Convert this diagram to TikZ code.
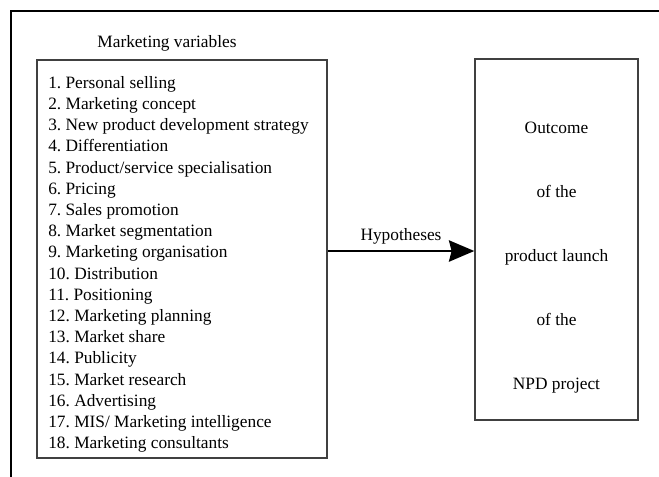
\documentclass[tikz,border=0pt]{standalone}
\usepackage{fontspec}
\setmainfont{Liberation Serif}
\usetikzlibrary{arrows.meta,positioning}
\frenchspacing

\begin{document}
\begin{tikzpicture}[x=0.75pt, y=-0.75pt,
    every node/.style={font=\fontsize{13}{15.9}\selectfont},
    box/.style={draw=black!75, line width=1.1pt, inner sep=0pt}]
    \clip (0,0) rectangle (659,476);
    % outer frame, only top and left edges show
    \draw[line width=2.2pt] (11,520) -- (11,11) -- (720,11);
    \node (title) at (167,43) {Marketing variables};
    \node (list) [box, minimum width=217.5pt, minimum height=298.5pt] at (182,259) {};
    \node (items) [anchor=north west, inner sep=0pt, align=left] at (48,76)
        {1. Personal selling\\
         2. Marketing concept\\
         3. New product development strategy\\
         4. Differentiation\\
         5. Product/service specialisation\\
         6. Pricing\\
         7. Sales promotion\\
         8. Market segmentation\\
         9. Marketing organisation\\
         10. Distribution\\
         11. Positioning\\
         12. Marketing planning\\
         13. Market share\\
         14. Publicity\\
         15. Market research\\
         16. Advertising\\
         17. MIS/ Marketing intelligence\\
         18. Marketing consultants};
    \node (outcome) [box, minimum width=122.25pt, minimum height=270.75pt] at (556.5,239.5) {};
    \node (outtext) [align=center, font=\fontsize{13}{48}\selectfont] at (556.5,258)
        {Outcome\\ of the\\ product launch\\ of the\\ NPD project};
    \coordinate (hyp) at (400,251);
    \draw[line width=1.6pt, -{Stealth[length=19pt, width=16pt, inset=2pt]}] (list.east |- hyp) -- node[above=1pt] {Hypotheses} (outcome.west |- hyp);
\end{tikzpicture}
\end{document}
